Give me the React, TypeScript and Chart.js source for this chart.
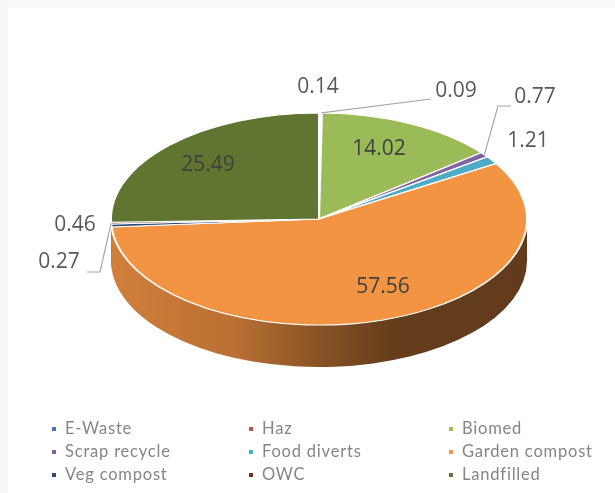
import React, { useEffect, useRef } from "react";
import { Chart, registerables } from "chart.js";

Chart.register(...registerables);

const categories = ["E-Waste", "Haz", "Biomed", "Scrap recycle", "Food diverts", "Garden compost", "Veg compost", "OWC", "Landfilled"];
const shares = [0.14, 0.09, 14.02, 0.77, 1.21, 57.56, 0.46, 0.27, 25.49];
const colors = ["#4472c4", "#c0504d", "#9bbb59", "#8064a2", "#4bacc6", "#f39443", "#2c4d75", "#772c2a", "#5f7530"];

const squash = 0.51;
const depth = 42;
const FONT = '"Open Sans", "Noto Sans", sans-serif';

function shade(hex: string, k: number) {
  const n = parseInt(hex.slice(1), 16);
  const c = [(n >> 16) & 255, (n >> 8) & 255, n & 255].map((v) => Math.round(v * k));
  return `rgb(${c[0]},${c[1]},${c[2]})`;
}

const pie3d = {
  id: "pie3d",
  beforeDatasetsDraw(chart: any) {
    const { ctx } = chart;
    const arcs = chart.getDatasetMeta(0).data;
    const cx = arcs[0].x, cy = arcs[0].y, r = arcs[0].outerRadius;
    const ry = r * squash;
    ctx.save();
    arcs.forEach((a: any, i: number) => {
      const s = Math.max(a.startAngle, 0);
      const e = Math.min(a.endAngle, Math.PI);
      if (e <= s) return;
      const g = ctx.createLinearGradient(cx - r, 0, cx + r, 0);
      g.addColorStop(0, shade(colors[i], 0.86));
      g.addColorStop(0.3, shade(colors[i], 0.76));
      g.addColorStop(0.5, shade(colors[i], 0.56));
      g.addColorStop(0.68, shade(colors[i], 0.41));
      g.addColorStop(1, shade(colors[i], 0.4));
      ctx.beginPath();
      ctx.ellipse(cx, cy, r, ry, 0, s, e);
      ctx.ellipse(cx, cy + depth, r, ry, 0, e, s, true);
      ctx.closePath();
      ctx.fillStyle = g;
      ctx.fill();
    });
    ctx.restore();
    ctx.save();
    ctx.translate(cx, cy);
    ctx.scale(1, squash);
    ctx.translate(-cx, -cy);
  },
  afterDatasetsDraw(chart: any) {
    const { ctx } = chart;
    ctx.restore();
    ctx.save();
    ctx.textAlign = "center";
    ctx.textBaseline = "middle";
    ctx.font = `21px ${FONT}`;
    const arcs = chart.getDatasetMeta(0).data;
    const cx = arcs[0].x, cy = arcs[0].y, r = arcs[0].outerRadius;

    const leader = (i: number, pts: [number, number][]) => {
      const a = (arcs[i].startAngle + arcs[i].endAngle) / 2;
      ctx.beginPath();
      ctx.moveTo(cx + Math.cos(a) * r, cy + Math.sin(a) * r * squash);
      pts.forEach((p) => ctx.lineTo(p[0], p[1]));
      ctx.strokeStyle = "#a6a6a6";
      ctx.lineWidth = 1.2;
      ctx.stroke();
    };
    leader(1, [[431, 99]]);
    leader(3, [[498, 106], [511, 106]]);
    leader(7, [[100, 272], [87, 272]]);

    ctx.fillStyle = "#404040";
    ctx.fillText(String(shares[2]), 379, 149);
    ctx.fillText(String(shares[5]), 383, 287);
    ctx.fillText(String(shares[8]), 208, 165);

    ctx.fillStyle = "#595959";
    ctx.fillText(String(shares[0]), 318, 87);
    ctx.fillText(String(shares[1]), 456, 91);
    ctx.fillText(String(shares[3]), 535, 97);
    ctx.fillText(String(shares[4]), 528, 141);
    ctx.fillText(String(shares[6]), 75, 225);
    ctx.fillText(String(shares[7]), 59, 262);

    const colX = [52, 249, 449];
    const rowY = [429, 452, 475];
    ctx.font = `16.5px Lato, ${FONT}`;
    ctx.letterSpacing = "0.8px";
    ctx.textAlign = "left";
    categories.forEach((name, i) => {
      const x = colX[i % 3], y = rowY[Math.floor(i / 3)];
      ctx.fillStyle = colors[i];
      ctx.fillRect(x, y - 2, 4, 4);
      ctx.fillStyle = "#858585";
      ctx.fillText(name, x + 13, y);
    });
    ctx.restore();
  },
};

export default function App() {
  const ref = useRef<HTMLCanvasElement>(null);
  useEffect(() => {
    const chart = new Chart(ref.current!, {
      type: "pie",
      data: {
        labels: categories,
        datasets: [{ data: shares, backgroundColor: colors, borderColor: "#ffffff", borderWidth: 2 }],
      },
      options: {
        animation: false,
        responsive: false,
        layout: { padding: { left: 110, right: 87, top: 10, bottom: 65 } },
        plugins: { legend: { display: false }, tooltip: { enabled: false } },
      },
      plugins: [pie3d],
    });
    return () => chart.destroy();
  }, []);
  return (
    <div style={{ position: "fixed", left: 0, top: 0, width: 615, height: 493, background: "#f8f8f8", overflow: "hidden" }}>
      <div style={{ position: "absolute", left: 8, top: 7, width: 607, height: 486, background: "#fff" }} />
      <canvas ref={ref} width={615} height={493} style={{ display: "block", position: "absolute", left: 0, top: 0, filter: "blur(0.7px)" }} />
    </div>
  );
}
